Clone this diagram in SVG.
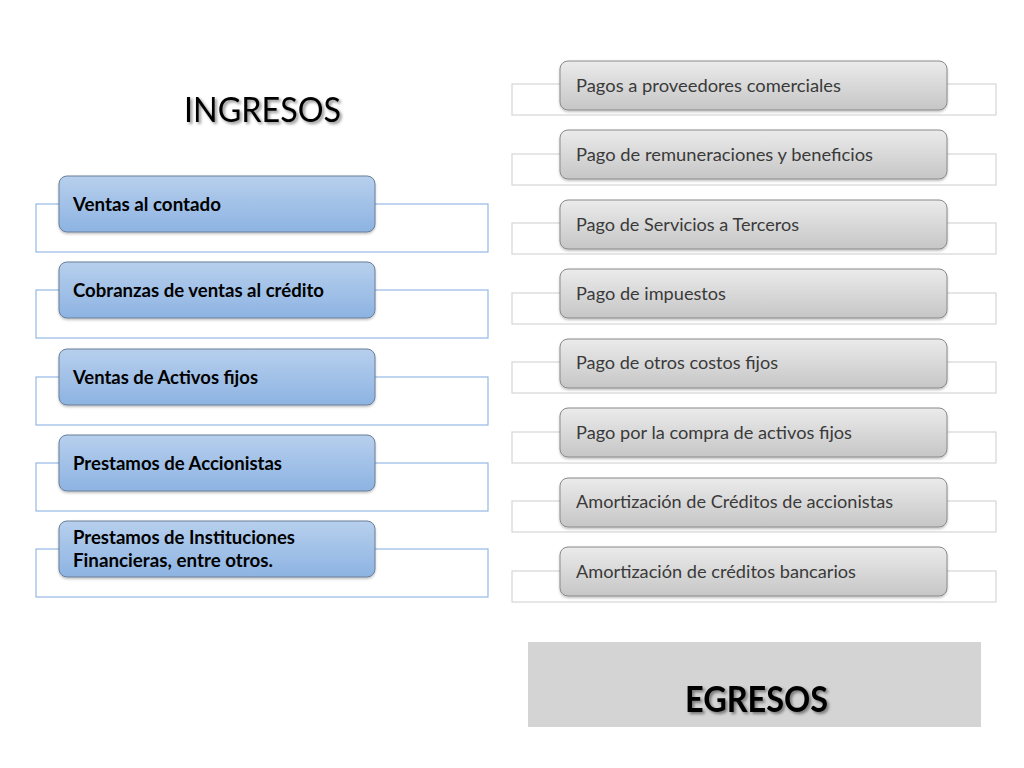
<svg xmlns="http://www.w3.org/2000/svg" width="1024" height="768" viewBox="0 0 1024 768">
<defs>
<linearGradient id="gBlue" x1="0" y1="0" x2="0" y2="1">
<stop offset="0" stop-color="#b7cfed"/>
<stop offset="1" stop-color="#8db3e2"/>
</linearGradient>
<linearGradient id="gGrey" x1="0" y1="0" x2="0" y2="1">
<stop offset="0" stop-color="#ebebeb"/>
<stop offset="1" stop-color="#c6c6c6"/>
</linearGradient>
<filter id="shadow" x="-10%" y="-20%" width="130%" height="160%">
<feDropShadow dx="2" dy="2" stdDeviation="1.5" flood-color="#000" flood-opacity="0.45"/>
</filter>
<filter id="nshadow" x="-5%" y="-10%" width="110%" height="130%">
<feDropShadow dx="0" dy="1.5" stdDeviation="1.2" flood-color="#000" flood-opacity="0.25"/>
</filter>
</defs>
<style>
.frameL{fill:none;stroke:#95b8e3;stroke-width:1.2}
.frameR{fill:none;stroke:#d6d6d6;stroke-width:1.2}
.boxL{fill:url(#gBlue);stroke:#6a7f99;stroke-width:1;filter:url(#nshadow)}
.boxR{fill:url(#gGrey);stroke:#8a8a8a;stroke-width:1;filter:url(#nshadow)}
.tL{font-family:Lato,"Liberation Sans",Arial,sans-serif;font-weight:bold;font-size:18.5px;fill:#000}
.tR{font-family:Lato,"Liberation Sans",Arial,sans-serif;font-size:18px;fill:#3a3a3a}
.title{font-family:Lato,"Liberation Sans",Arial,sans-serif;fill:#000;filter:url(#shadow)}
</style>
<rect width="1024" height="768" fill="#ffffff"/>

<g id="title-ingresos">
<text class="title" x="184" y="122" font-size="35" textLength="157" lengthAdjust="spacingAndGlyphs">INGRESOS</text>
</g>

<g id="connectors"></g>

<g id="ing1">
<rect class="frameL" x="36" y="204" width="452" height="48"/>
<rect class="boxL" x="59" y="176" width="316" height="56" rx="8"/>
<text class="tL" x="73" y="211" textLength="148" lengthAdjust="spacingAndGlyphs">Ventas al contado</text>
</g>
<g id="ing2">
<rect class="frameL" x="36" y="290" width="452" height="48"/>
<rect class="boxL" x="59" y="262" width="316" height="56" rx="8"/>
<text class="tL" x="73" y="297" textLength="251" lengthAdjust="spacingAndGlyphs">Cobranzas de ventas al crédito</text>
</g>
<g id="ing3">
<rect class="frameL" x="36" y="377" width="452" height="48"/>
<rect class="boxL" x="59" y="349" width="316" height="56" rx="8"/>
<text class="tL" x="73" y="384" textLength="185" lengthAdjust="spacingAndGlyphs">Ventas de Activos fijos</text>
</g>
<g id="ing4">
<rect class="frameL" x="36" y="463" width="452" height="48"/>
<rect class="boxL" x="59" y="435" width="316" height="56" rx="8"/>
<text class="tL" x="73" y="470" textLength="209" lengthAdjust="spacingAndGlyphs">Prestamos de Accionistas</text>
</g>
<g id="ing5">
<rect class="frameL" x="36" y="549" width="452" height="48"/>
<rect class="boxL" x="59" y="521" width="316" height="56" rx="8"/>
<text class="tL" x="73" y="544" textLength="222" lengthAdjust="spacingAndGlyphs">Prestamos de Instituciones</text>
<text class="tL" x="73" y="567" textLength="200" lengthAdjust="spacingAndGlyphs">Financieras, entre otros.</text>
</g>

<g id="egr1">
<rect class="frameR" x="512" y="84" width="484" height="31"/>
<rect class="boxR" x="560" y="61" width="387" height="49" rx="8"/>
<text class="tR" x="576" y="92" textLength="265" lengthAdjust="spacingAndGlyphs">Pagos a proveedores comerciales</text>
</g>
<g id="egr2">
<rect class="frameR" x="512" y="154" width="484" height="31"/>
<rect class="boxR" x="560" y="130" width="387" height="49" rx="8"/>
<text class="tR" x="576" y="161" textLength="297" lengthAdjust="spacingAndGlyphs">Pago de remuneraciones y beneficios</text>
</g>
<g id="egr3">
<rect class="frameR" x="512" y="223" width="484" height="31"/>
<rect class="boxR" x="560" y="200" width="387" height="49" rx="8"/>
<text class="tR" x="576" y="231" textLength="223" lengthAdjust="spacingAndGlyphs">Pago de Servicios a Terceros</text>
</g>
<g id="egr4">
<rect class="frameR" x="512" y="293" width="484" height="31"/>
<rect class="boxR" x="560" y="269" width="387" height="49" rx="8"/>
<text class="tR" x="576" y="300" textLength="150" lengthAdjust="spacingAndGlyphs">Pago de impuestos</text>
</g>
<g id="egr5">
<rect class="frameR" x="512" y="362" width="484" height="31"/>
<rect class="boxR" x="560" y="339" width="387" height="49" rx="8"/>
<text class="tR" x="576" y="369" textLength="202" lengthAdjust="spacingAndGlyphs">Pago de otros costos fijos</text>
</g>
<g id="egr6">
<rect class="frameR" x="512" y="432" width="484" height="31"/>
<rect class="boxR" x="560" y="408" width="387" height="49" rx="8"/>
<text class="tR" x="576" y="439" textLength="276" lengthAdjust="spacingAndGlyphs">Pago por la compra de activos fijos</text>
</g>
<g id="egr7">
<rect class="frameR" x="512" y="501" width="484" height="31"/>
<rect class="boxR" x="560" y="478" width="387" height="49" rx="8"/>
<text class="tR" x="576" y="508" textLength="317" lengthAdjust="spacingAndGlyphs">Amortización de Créditos de accionistas</text>
</g>
<g id="egr8">
<rect class="frameR" x="512" y="571" width="484" height="31"/>
<rect class="boxR" x="560" y="547" width="387" height="49" rx="8"/>
<text class="tR" x="576" y="578" textLength="280" lengthAdjust="spacingAndGlyphs">Amortización de créditos bancarios</text>
</g>

<g id="title-egresos">
<rect x="528" y="642" width="453" height="85" fill="#d4d4d4"/>
<text class="title" x="685" y="712" font-size="36" font-weight="bold" textLength="143" lengthAdjust="spacingAndGlyphs">EGRESOS</text>
</g>
</svg>
